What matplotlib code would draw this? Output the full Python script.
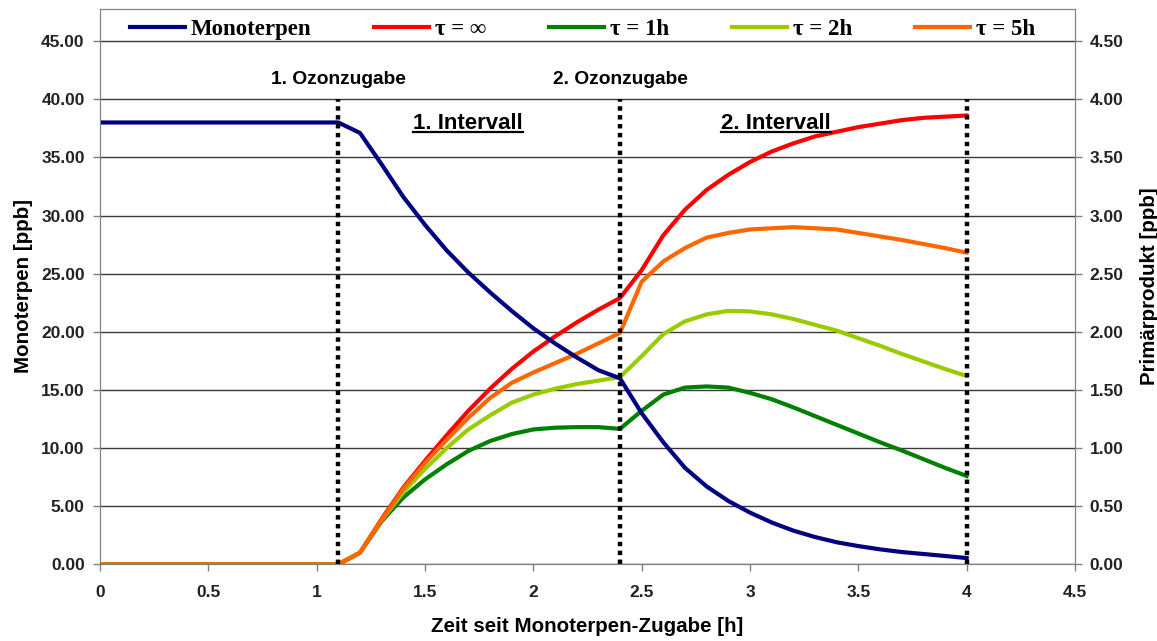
import matplotlib
matplotlib.use("Agg")
import matplotlib.pyplot as plt
from matplotlib.lines import Line2D
from matplotlib.ticker import FormatStrFormatter, FuncFormatter

# Zeit seit Monoterpen-Zugabe [h]
zeit = [0.0, 1.1, 1.2, 1.3, 1.4, 1.5, 1.6, 1.7, 1.8, 1.9, 2.0,
        2.1, 2.2, 2.3, 2.4, 2.5, 2.6, 2.7, 2.8, 2.9, 3.0,
        3.1, 3.2, 3.3, 3.4, 3.5, 3.6, 3.7, 3.8, 3.9, 4.0]

# Monoterpen [ppb] (linke Achse)
monoterpen = [38.0, 38.0, 37.1, 34.4, 31.6, 29.2, 27.0, 25.1, 23.4, 21.8, 20.3,
              19.0, 17.8, 16.7, 16.0, 13.0, 10.5, 8.3, 6.7, 5.45, 4.45,
              3.6, 2.9, 2.35, 1.9, 1.57, 1.29, 1.06, 0.89, 0.72, 0.54]

# Primaerprodukt [ppb] (rechte Achse)
tau_inf = [0.0, 0.0, 0.10, 0.39, 0.66, 0.89, 1.11, 1.32, 1.51, 1.68, 1.83,
           1.96, 2.08, 2.19, 2.29, 2.53, 2.83, 3.05, 3.22, 3.35, 3.46,
           3.55, 3.62, 3.68, 3.72, 3.76, 3.79, 3.82, 3.84, 3.85, 3.86]
tau_1h = [0.0, 0.0, 0.10, 0.37, 0.575, 0.73, 0.86, 0.975, 1.06, 1.12, 1.16,
          1.175, 1.18, 1.18, 1.165, 1.32, 1.46, 1.52, 1.53, 1.52, 1.475,
          1.42, 1.35, 1.275, 1.20, 1.125, 1.05, 0.98, 0.905, 0.83, 0.76]
tau_2h = [0.0, 0.0, 0.10, 0.38, 0.62, 0.82, 1.00, 1.16, 1.28, 1.39, 1.46,
          1.51, 1.55, 1.58, 1.61, 1.79, 1.98, 2.09, 2.15, 2.18, 2.175,
          2.15, 2.11, 2.06, 2.01, 1.945, 1.88, 1.81, 1.745, 1.68, 1.62]
tau_5h = [0.0, 0.0, 0.10, 0.38, 0.65, 0.87, 1.07, 1.26, 1.43, 1.56, 1.65,
          1.73, 1.81, 1.90, 1.99, 2.43, 2.605, 2.72, 2.81, 2.85, 2.88,
          2.89, 2.90, 2.89, 2.88, 2.85, 2.82, 2.79, 2.755, 2.72, 2.68]

ozon_zeiten = [1.1, 2.4, 4.0]
ozon_labels = ["1. Ozonzugabe", "2. Ozonzugabe"]
intervall_labels = ["1. Intervall", "2. Intervall"]
intervall_x = [1.70, 3.12]

plt.rcParams['font.family'] = ['Liberation Sans', 'DejaVu Sans']
plt.rcParams['font.weight'] = 'bold'

fig = plt.figure(figsize=(11.57, 6.41), dpi=100)
ax2 = fig.add_axes([0.0864, 0.1196, 0.8427, 0.8671])  # rechte Achse (unten)
ax = ax2.twinx()
ax.yaxis.tick_left()
ax.yaxis.set_label_position("left")
ax2.yaxis.tick_right()
ax2.yaxis.set_label_position("right")
ax.set_zorder(ax2.get_zorder() + 1)
ax.patch.set_visible(False)

ymax = 47.8
ax.set_ylim(0, ymax)
ax2.set_ylim(0, ymax / 10)
ax.set_xlim(0, 4.5)

ax.set_yticks([0, 5, 10, 15, 20, 25, 30, 35, 40, 45])
ax2.set_yticks([0, 0.5, 1, 1.5, 2, 2.5, 3, 3.5, 4, 4.5])
ax2.set_xticks([0, 0.5, 1, 1.5, 2, 2.5, 3, 3.5, 4, 4.5])
ax.yaxis.set_major_formatter(FormatStrFormatter('%.2f'))
ax2.yaxis.set_major_formatter(FormatStrFormatter('%.2f'))
ax2.xaxis.set_major_formatter(FuncFormatter(lambda v, p: f"{v:g}"))

ax2.grid(axis='y', color='#3a3a3a', linewidth=1.0)
ax2.set_axisbelow(True)

for a in (ax, ax2):
    for s in a.spines.values():
        s.set_color('#808080')
    a.tick_params(direction='out', length=5, width=1, color='#808080',
                  labelsize=12.5, labelcolor='#222222')
ax.tick_params(axis='y', pad=6)
ax2.tick_params(axis='y', pad=5.5)
ax2.tick_params(axis='x', pad=10)

l_inf, = ax2.plot(zeit, tau_inf, color='#FF0000', lw=3, label='τ = ∞')
l_1h, = ax2.plot(zeit, tau_1h, color='#008000', lw=3, label='τ = 1h')
l_2h, = ax2.plot(zeit, tau_2h, color='#99CC00', lw=3, label='τ = 2h')
l_5h, = ax2.plot(zeit, tau_5h, color='#FF6600', lw=3, label='τ = 5h')
l_mono, = ax.plot(zeit, monoterpen, color='#000080', lw=3, label='Monoterpen')

ax.vlines(ozon_zeiten, 0, 40, colors='black', linestyles=(0, (1, 1)), lw=3.2)

for xv, txt in zip(ozon_zeiten[:2], ozon_labels):
    ax.text(xv, 41.7, txt, ha='center', va='center', fontsize=13.8,
            fontweight='bold')

iv_texts = []
for xv, txt in zip(intervall_x, intervall_labels):
    t = ax.text(xv, 37.9, txt, ha='center', va='center', fontsize=16,
                fontweight='bold')
    iv_texts.append(t)

ax.set_ylabel('Monoterpen [ppb]', fontsize=14.8, fontweight='bold', labelpad=6)
ax2.set_ylabel('Primärprodukt [ppb]', fontsize=14.8, fontweight='bold',
               labelpad=12)
ax2.set_xlabel('Zeit seit Monoterpen-Zugabe [h]', fontsize=14.8,
               fontweight='bold', labelpad=12)

ax.legend(handles=[l_mono, l_inf, l_1h, l_2h, l_5h], ncol=5, loc='upper center',
          bbox_to_anchor=(0.495, 1.018), frameon=False,
          prop={'family': 'Liberation Serif', 'weight': 'bold', 'size': 16.5},
          handlelength=2.4, handletextpad=0.25, columnspacing=2.75)

# Unterstreichung der Intervall-Beschriftungen
fig.canvas.draw()
inv = fig.transFigure.inverted()
for t in iv_texts:
    bb = t.get_window_extent()
    (x0, y0), (x1, _) = inv.transform([(bb.x0, bb.y0 + 2), (bb.x1, bb.y0 + 2)])
    fig.add_artist(Line2D([x0, x1], [y0, y0], color='black', lw=1.6))

fig.savefig('out.png', dpi=100)
